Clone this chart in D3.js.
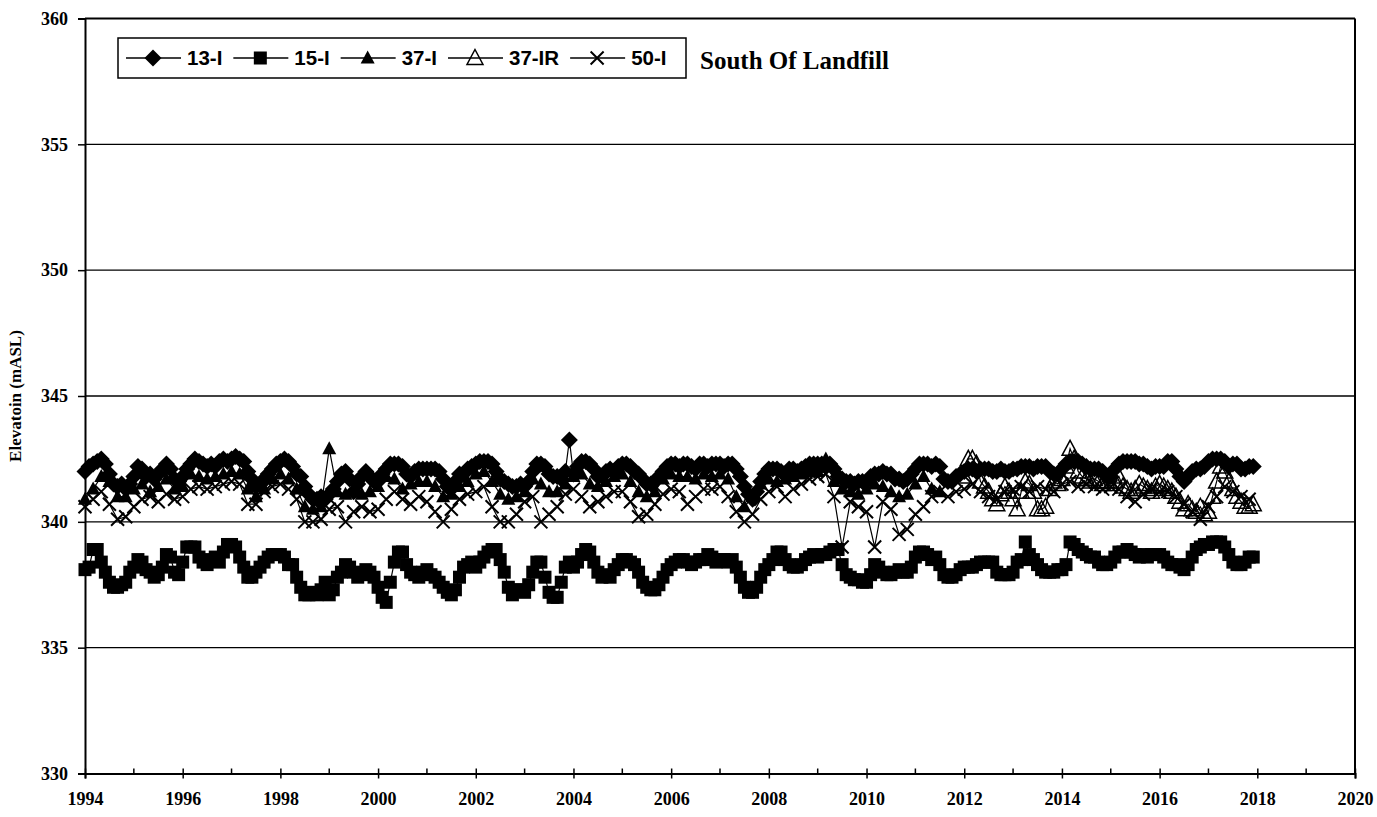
<!DOCTYPE html>
<html><head><meta charset="utf-8">
<script src="https://cdn.jsdelivr.net/npm/d3@7"></script>
<style>body{margin:0;background:#fff}svg{display:block}</style>
</head><body>
<svg id="c" width="1377" height="817"></svg>
<script>
// ---- data ----
const xTicks = [1994,1996,1998,2000,2002,2004,2006,2008,2010,2012,2014,2016,2018,2020];
const yTicks = [330,335,340,345,350,355,360];
const seriesNames = ["13-I","15-I","37-I","37-IR","50-I"];
const chartNote = "South Of Landfill";
const yTitle = "Elevatoin (mASL)";

// 13-I monthly from 1994.0
const s13_start = 1994, s13_perYear = 12;
const s13 = [
342.0,342.2,342.3,342.4,342.5,342.3,341.9,341.5,341.4,341.5,341.3,341.5,
341.8,342.2,342.1,341.8,341.9,341.7,341.9,342.1,342.3,342.1,341.7,341.6,
341.8,342.1,342.3,342.5,342.4,342.3,342.2,342.3,342.2,342.4,342.5,342.4,
342.5,342.6,342.5,342.4,342.0,341.7,341.4,341.5,341.7,341.9,342.1,342.3,
342.4,342.5,342.4,342.2,341.9,341.8,341.4,341.1,340.9,340.9,341.0,340.9,
341.1,341.3,341.6,341.9,342.0,341.7,341.2,341.5,341.8,342.0,341.8,341.6,
341.6,341.9,342.1,342.3,342.3,342.3,342.2,341.9,341.8,342.0,342.1,342.1,
342.1,342.1,342.1,342.0,341.7,341.4,341.3,341.6,341.9,341.9,342.1,342.2,
342.3,342.4,342.4,342.4,342.3,342.0,341.7,341.6,341.5,341.4,341.4,341.5,
341.4,341.6,342.0,342.3,342.3,342.2,341.9,341.8,341.8,341.7,342.0,343.25,
341.9,342.2,342.4,342.4,342.3,342.1,341.8,341.8,342.0,342.1,342.0,342.2,
342.3,342.3,342.2,342.0,341.9,341.7,341.5,341.5,341.6,341.8,342.0,342.2,
342.3,342.3,342.2,342.3,342.3,342.2,342.1,342.3,342.3,342.2,342.3,342.3,
342.3,342.2,342.3,342.3,342.1,341.8,341.4,341.1,340.9,341.2,341.6,341.9,
342.1,342.1,342.1,342.0,341.9,342.1,342.1,342.0,342.1,342.2,342.3,342.3,
342.3,342.3,342.2,342.3,342.1,341.8,341.7,341.6,341.6,341.5,341.6,341.6,
341.6,341.8,341.9,341.9,342.0,341.9,341.9,341.7,341.7,341.6,341.7,341.9,
342.1,342.3,342.3,342.3,342.2,342.3,342.2,341.7,341.6,341.6,341.8,341.9,
342.0,342.1,342.1,342.0,342.1,342.1,342.1,342.0,342.0,342.1,342.0,342.0,
342.1,342.1,342.2,342.2,342.2,342.1,342.2,342.2,342.2,342.0,341.9,341.9,
342.1,342.3,342.4,342.4,342.4,342.3,342.2,342.1,342.1,342.1,342.0,341.8,
341.8,342.1,342.3,342.4,342.4,342.4,342.4,342.3,342.3,342.2,342.1,342.2,
342.2,342.2,342.4,342.4,342.1,341.8,341.6,341.8,342.0,342.1,342.1,342.2,
342.4,342.5,342.5,342.5,342.4,342.2,342.3,342.3,342.1,342.1,342.2,342.2
];

// 15-I monthly from 1994.0
const s15_start = 1994, s15_perYear = 12;
const s15 = [
338.1,338.2,338.9,338.9,338.4,338.0,337.6,337.4,337.4,337.5,337.6,338.0,
338.2,338.5,338.4,338.1,338.0,337.8,337.9,338.2,338.7,338.6,338.0,337.9,
338.4,339.0,339.0,339.0,338.6,338.4,338.3,338.5,338.6,338.4,338.8,339.1,
339.1,339.0,338.6,338.2,337.8,337.8,338.0,338.2,338.4,338.6,338.7,338.7,
338.7,338.6,338.3,338.3,337.8,337.4,337.1,337.1,337.2,337.1,337.3,337.6,
337.1,337.3,337.8,338.0,338.3,338.2,338.0,337.8,337.9,338.1,338.0,337.8,
337.4,337.0,336.8,337.6,338.4,338.8,338.8,338.3,338.0,337.9,337.8,338.0,
338.1,337.9,337.8,337.6,337.4,337.2,337.1,337.3,337.8,338.2,338.3,338.4,
338.2,338.4,338.6,338.8,338.9,338.9,338.5,338.0,337.4,337.1,337.3,337.3,
337.2,337.5,338.0,338.4,338.4,337.8,337.2,337.0,337.0,337.6,338.2,338.4,
338.2,338.4,338.7,338.9,338.8,338.4,338.0,337.8,337.9,337.8,338.1,338.3,
338.5,338.5,338.4,338.3,338.0,337.6,337.4,337.3,337.3,337.5,337.8,338.1,
338.3,338.4,338.5,338.5,338.4,338.3,338.4,338.5,338.5,338.7,338.6,338.4,
338.5,338.5,338.4,338.5,338.2,337.8,337.4,337.2,337.2,337.4,337.8,338.1,
338.3,338.5,338.8,338.8,338.5,338.3,338.2,338.2,338.3,338.5,338.6,338.7,
338.6,338.7,338.7,338.8,338.9,338.9,338.3,337.9,337.8,337.7,337.7,337.6,
337.6,337.9,338.3,338.2,338.0,337.9,337.9,338.0,338.1,338.0,338.0,338.2,
338.6,338.8,338.8,338.7,338.5,338.6,338.3,337.9,337.8,337.8,337.9,338.1,
338.2,338.2,338.2,338.3,338.4,338.4,338.4,338.4,338.0,337.9,337.9,337.9,
338.0,338.4,338.5,339.2,338.7,338.5,338.3,338.1,338.0,338.0,338.0,338.1,
338.1,338.3,339.2,339.1,338.9,338.8,338.7,338.6,338.6,338.4,338.3,338.3,
338.4,338.6,338.8,338.8,338.9,338.8,338.7,338.6,338.7,338.6,338.7,338.7,
338.7,338.6,338.4,338.3,338.3,338.2,338.1,338.3,338.6,338.9,339.0,339.1,
339.1,339.2,339.2,339.2,339.0,338.7,338.4,338.3,338.3,338.4,338.6,338.6
];

// 37-I bimonthly from 1994.0
const s37_start = 1994, s37_perYear = 6;
const s37 = [
340.9,341.3,341.8,341.6,341.0,341.0,
341.3,341.5,341.2,341.4,341.7,341.3,
341.4,341.9,341.8,341.7,341.8,341.9,
342.0,341.9,341.3,341.0,341.3,341.7,
341.9,341.7,341.3,340.6,340.5,340.6,
342.9,341.2,341.1,341.3,341.1,341.2,
341.4,341.8,341.7,341.3,341.5,341.6,
341.6,341.4,341.0,341.1,341.4,341.6,
341.9,342.0,341.6,341.1,340.9,341.0,
341.2,341.7,341.5,341.2,341.2,341.5,
341.8,341.9,341.5,341.4,341.6,341.8,
341.9,341.6,341.2,341.0,341.2,341.7,
341.9,341.8,341.8,341.7,341.9,341.8,
341.9,341.7,341.0,340.6,341.0,341.5,
341.7,341.6,341.7,341.8,341.9,342.0,
342.0,342.5,341.6,341.3,341.2,341.1,
341.3,341.5,341.4,341.2,341.0,341.1,
341.5,341.8,341.3,341.2
];

// 37-IR monthly from 2012.0
const s37r_start = 2012, s37r_perYear = 12;
const s37r = [
341.8,342.5,342.5,342.3,341.6,341.4,341.2,340.9,340.7,341.1,341.4,341.2,
340.9,340.5,341.2,341.6,341.5,341.2,340.5,340.5,340.6,341.3,341.6,341.5,
341.7,342.2,342.9,342.5,342.0,341.8,341.7,341.6,341.7,341.6,341.5,341.6,
341.5,341.6,341.8,341.4,341.3,341.2,341.3,341.5,341.4,341.3,341.2,341.4,
341.5,341.4,341.3,341.2,341.0,340.8,340.5,340.7,340.5,340.4,340.6,340.3,
340.4,341.0,341.6,342.2,342.0,341.6,341.3,341.0,340.8,340.6,340.6,340.7
];

// 50-I bimonthly from 1994.0
const s50_start = 1994, s50_perYear = 6;
const s50 = [
340.6,340.9,341.2,340.7,340.1,340.2,
340.6,340.9,341.0,340.8,341.1,340.9,
341.0,341.3,341.4,341.3,341.4,341.5,
341.6,341.5,340.7,340.7,341.2,341.4,
341.5,341.3,340.9,340.0,340.0,340.1,
340.5,340.6,340.0,340.4,340.6,340.4,
340.5,340.9,341.2,340.9,340.7,341.0,
340.8,340.4,340.0,340.5,340.9,341.1,
341.2,341.4,340.6,340.0,340.0,340.3,
340.8,341.0,340.0,340.3,340.6,341.1,
341.3,341.0,340.6,340.8,341.0,341.2,
341.2,340.8,340.2,340.3,340.7,341.1,
341.3,341.2,340.7,341.0,341.3,341.3,
341.4,341.0,340.4,340.0,340.3,340.9,
341.2,341.4,341.0,341.3,341.5,341.7,
341.8,341.9,341.0,339.0,340.8,340.6,
340.4,339.0,340.8,340.5,339.5,339.7,
340.3,340.6,341.0,341.2,341.0,341.2,
341.3,341.5,341.2,341.0,340.9,341.2,
341.3,341.4,341.2,341.4,341.3,341.2,
341.5,341.6,341.4,341.5,341.4,341.3,
341.4,341.3,341.0,340.8,341.1,341.3,
341.2,341.2,341.0,340.7,340.4,340.1,
340.6,341.0,341.4,341.2,341.0,340.9
];

// ---- chart ----
const svg = d3.select("#c");
const L = 85, R = 1355, T = 18.5, B = 773.5;
const x = d3.scaleLinear().domain([1994, 2020]).range([L, R]);
const y = d3.scaleLinear().domain([330, 360]).range([B, T]);
const serif = "'Liberation Serif','Times New Roman',serif";
const sans = "'Liberation Sans',Arial,sans-serif";

// gridlines
svg.append("g").selectAll("line").data(yTicks.filter(v => v > 330 && v < 360)).join("line")
  .attr("x1", L).attr("x2", R).attr("y1", d => y(d)).attr("y2", d => y(d))
  .attr("stroke", "#000").attr("stroke-width", 1.4);

// frame top/right
svg.append("line").attr("x1", L).attr("x2", R).attr("y1", T).attr("y2", T).attr("stroke", "#000").attr("stroke-width", 2);
svg.append("line").attr("x1", R).attr("x2", R).attr("y1", T).attr("y2", B).attr("stroke", "#000").attr("stroke-width", 2);

// y axis
const yAx = svg.append("g").attr("transform", `translate(${L},0)`)
  .call(d3.axisLeft(y).tickValues(yTicks).tickSize(7).tickPadding(10).tickFormat(d3.format("d")));
yAx.select(".domain").attr("stroke-width", 2);
yAx.selectAll(".tick line").attr("stroke-width", 1.5);
yAx.selectAll("text").attr("font-family", serif).attr("font-weight", "bold").attr("font-size", 18).attr("fill", "#000");

// x axis: minor ticks (inside only) and major ticks crossing
const minorYears = d3.range(1995, 2020, 2);
svg.append("g").selectAll("line").data(minorYears).join("line")
  .attr("x1", d => x(d)).attr("x2", d => x(d)).attr("y1", B).attr("y2", B - 5)
  .attr("stroke", "#000").attr("stroke-width", 1.5);
const xAx = svg.append("g").attr("transform", `translate(0,${B})`)
  .call(d3.axisBottom(x).tickValues(xTicks).tickSize(5).tickPadding(14).tickFormat(d3.format("d")));
xAx.select(".domain").attr("stroke-width", 2);
xAx.selectAll(".tick line").attr("y1", -5).attr("stroke-width", 1.5);
xAx.selectAll("text").attr("font-family", serif).attr("font-weight", "bold").attr("font-size", 18).attr("fill", "#000");

// y title
svg.append("text").attr("transform", `translate(21,${(T + B) / 2}) rotate(-90)`)
  .attr("text-anchor", "middle").attr("font-family", serif).attr("font-weight", "bold")
  .attr("font-size", 17).text(yTitle);

// markers
function drawMarker(g, type, cx, cy) {
  if (type === "diamond") {
    g.append("path").attr("d", `M${cx},${cy-8.5}L${cx+8.5},${cy}L${cx},${cy+8.5}L${cx-8.5},${cy}Z`).attr("fill", "#000");
  } else if (type === "square") {
    g.append("rect").attr("x", cx - 6.5).attr("y", cy - 6.5).attr("width", 13).attr("height", 13).attr("fill", "#000");
  } else if (type === "triangle") {
    g.append("path").attr("d", `M${cx},${cy-7.5}L${cx+7},${cy+5.5}L${cx-7},${cy+5.5}Z`).attr("fill", "#000");
  } else if (type === "otriangle") {
    g.append("path").attr("d", `M${cx},${cy-8.5}L${cx+8},${cy+6.5}L${cx-8},${cy+6.5}Z`).attr("fill", "none").attr("stroke", "#000").attr("stroke-width", 1.5);
  } else if (type === "x") {
    g.append("path").attr("d", `M${cx-6.5},${cy-6.5}L${cx+6.5},${cy+6.5}M${cx+6.5},${cy-6.5}L${cx-6.5},${cy+6.5}`).attr("stroke", "#000").attr("stroke-width", 2);
  }
}

const series = [
  {name: seriesNames[0], vals: s13, start: s13_start, per: s13_perYear, mk: "diamond"},
  {name: seriesNames[1], vals: s15, start: s15_start, per: s15_perYear, mk: "square"},
  {name: seriesNames[2], vals: s37, start: s37_start, per: s37_perYear, mk: "triangle"},
  {name: seriesNames[3], vals: s37r, start: s37r_start, per: s37r_perYear, mk: "otriangle"},
  {name: seriesNames[4], vals: s50, start: s50_start, per: s50_perYear, mk: "x"},
];
const line = d3.line().x(d => x(d[0])).y(d => y(d[1]));
series.forEach(s => {
  const pts = s.vals.map((v, i) => [s.start + i / s.per, v]);
  const g = svg.append("g");
  g.append("path").attr("d", line(pts)).attr("fill", "none").attr("stroke", "#000").attr("stroke-width", 1.2);
  pts.forEach(p => drawMarker(g, s.mk, x(p[0]), y(p[1])));
});

// legend
const lg = svg.append("g");
const box = lg.append("rect").attr("x", 118).attr("y", 38).attr("height", 40)
  .attr("fill", "#fff").attr("stroke", "#000").attr("stroke-width", 1.5);
let cx = 126;
const ly = 58;
series.forEach(s => {
  lg.append("line").attr("x1", cx).attr("x2", cx + 55).attr("y1", ly).attr("y2", ly).attr("stroke", "#000").attr("stroke-width", 1.4);
  drawMarker(lg, s.mk, cx + 27, ly);
  const t = lg.append("text").attr("x", cx + 61).attr("y", ly + 7).attr("font-family", sans)
    .attr("font-weight", "bold").attr("font-size", 20.5).text(s.name);
  cx = cx + 61 + t.node().getComputedTextLength() + 11;
});
box.attr("width", Math.max(cx - 4 - 118, 568));

svg.append("text").attr("x", 700).attr("y", 69).attr("font-family", serif).attr("font-weight", "bold")
  .attr("font-size", 25).text(chartNote);
</script>
</body></html>
